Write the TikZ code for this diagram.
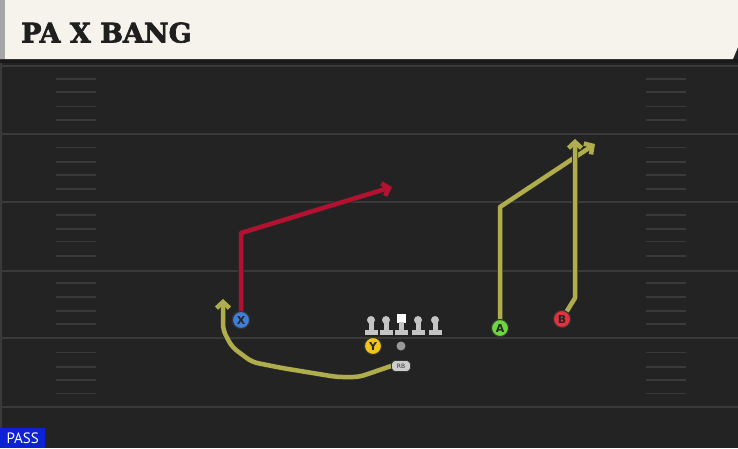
\documentclass[tikz,border=0pt]{standalone}
\usepackage{fontspec}
\usetikzlibrary{arrows.meta}
\newfontfamily\titlefont[FakeBold=2.5]{DejaVu Serif}
\newfontfamily\markfont{DejaVu Sans}
\newfontfamily\tagfont{PT Sans}
\definecolor{fieldgray}{HTML}{232323}
\definecolor{yardgray}{HTML}{3A3A3A}
\definecolor{titlecream}{HTML}{F6F3EC}
\definecolor{olive}{HTML}{B0AE4C}
\definecolor{routered}{HTML}{B3112F}
\definecolor{passblue}{HTML}{0D22D4}
\definecolor{linegray}{HTML}{C4C4C4}
\definecolor{xblue}{HTML}{3D7FD9}
\definecolor{yyellow}{HTML}{F2C418}
\definecolor{agreen}{HTML}{6CD63C}
\definecolor{bred}{HTML}{E0333F}
\tikzset{
	lineman/.pic={
		\fill[linegray] (0,-8) circle (4);
		\fill[linegray] (-2.5,-8) rectangle (2.5,4);
		\fill[linegray] (-6.5,2) rectangle (6.5,7);
	},
	centerman/.pic={
		\fill[white] (-4.5,-14) rectangle (4.5,-5);
		\fill[linegray] (-2.5,-6) rectangle (2.5,4);
		\fill[linegray] (-6.5,2) rectangle (6.5,7);
	}
}

\begin{document}
\begin{tikzpicture}[x=1pt,y=-1pt,
	yard/.style={draw=yardgray,line width=2pt},
	hash/.style={draw=yardgray,line width=1.5pt},
	route/.style={line width=4.5pt,line join=round,preaction={draw=black!85,line width=6pt},-{Straight Barb[length=6pt,width=13pt]}},
	player/.style={circle,draw=black!80,line width=1pt,minimum size=17pt,inner sep=0pt,text=black!85,font=\markfont\bfseries\fontsize{11}{11}\selectfont},
	rbtag/.style={fill=linegray!85,draw=black!80,line width=0.6pt,rounded corners=4pt,minimum width=19pt,minimum height=11pt,inner sep=0pt,text=black!80,font=\markfont\fontsize{6}{6}\selectfont}]
		\useasboundingbox (0,0) rectangle (738,448);
		\fill[fieldgray] (0,0) rectangle (738,448);
		\fill[yardgray] (0,59) rectangle (2,448);
		
		\draw[yard] (0,66) -- (738,66);
		\draw[yard] (0,133.5) -- (738,133.5);
		\draw[yard] (0,201.5) -- (738,201.5);
		\draw[yard] (0,270.5) -- (738,270.5);
		\draw[yard] (0,338) -- (738,338);
		\draw[yard] (0,407) -- (738,407);
		
		\draw[hash] (56,79) -- (96,79) (56,92) -- (96,92) (56,106.5) -- (96,106.5) (56,120) -- (96,120);
		\draw[hash] (646,79) -- (686,79) (646,92) -- (686,92) (646,106.5) -- (686,106.5) (646,120) -- (686,120);
		\draw[hash] (56,147.5) -- (96,147.5) (56,162) -- (96,162) (56,175) -- (96,175) (56,189) -- (96,189);
		\draw[hash] (646,147.5) -- (686,147.5) (646,162) -- (686,162) (646,175) -- (686,175) (646,189) -- (686,189);
		\draw[hash] (56,215) -- (96,215) (56,229) -- (96,229) (56,241.5) -- (96,241.5) (56,256) -- (96,256);
		\draw[hash] (646,215) -- (686,215) (646,229) -- (686,229) (646,241.5) -- (686,241.5) (646,256) -- (686,256);
		\draw[hash] (56,283) -- (96,283) (56,297) -- (96,297) (56,311) -- (96,311) (56,324) -- (96,324);
		\draw[hash] (646,283) -- (686,283) (646,297) -- (686,297) (646,311) -- (686,311) (646,324) -- (686,324);
		\draw[hash] (56,352.5) -- (96,352.5) (56,367) -- (96,367) (56,380) -- (96,380) (56,393.5) -- (96,393.5);
		\draw[hash] (646,352.5) -- (686,352.5) (646,367) -- (686,367) (646,380) -- (686,380) (646,393.5) -- (686,393.5);
		
		\fill[black!90] (0,59) rectangle (738,63);
		\fill[titlecream] (0,0) -- (738,0) -- (738,47) -- (733,59) -- (0,59) -- cycle;
		\fill[black!35] (0,0) rectangle (5,59);
		\node[anchor=base west,inner sep=0pt,text=black!88,font=\titlefont\bfseries\fontsize{27}{27}\selectfont] at (21,42.5) (title) {PA X BANG};
		
		\node[player,fill=yyellow] at (373,346) (Y) {Y};
		\node[circle,fill=gray!80,inner sep=0pt,minimum size=9pt] at (401,346) (qb) {};
		
		\pic (lt) at (371,328) {lineman};
		\pic (lg) at (386,328) {lineman};
		\pic (c) at (401,328) {centerman};
		\pic (rg) at (418,328) {lineman};
		\pic (rt) at (435,328) {lineman};
		
		\coordinate (xc) at (241,233);
		\coordinate (xe) at (392,187);
		\coordinate (ac) at (500,207);
		\coordinate (ae) at (595,144);
		\coordinate (bc) at (575,298);
		\coordinate (be) at (575,139);
		\coordinate (r1) at (359,377);
		\coordinate (r2) at (337,377);
		\coordinate (r3) at (282,368);
		\coordinate (r4) at (252,362);
		\coordinate (r5) at (232,347);
		\coordinate (r6) at (223,330);
		\coordinate (re) at (223,299);
		
		\node[player,fill=xblue] at (241,320) (X) {X};
		\node[player,fill=agreen] at (500,328) (A) {A};
		\node[player,fill=bred] at (562,319) (B) {B};
		\node[rbtag] at (401,366) (RB) {RB};
		
		\draw[route,routered] (X) -- (xc) -- (xe);
		\draw[route,olive] (A) -- (ac) -- (ae);
		\draw[route,olive] (B) -- (bc) -- (be);
		\draw[route,olive,rounded corners=6pt] (RB.west) -- (r1) -- (r2) -- (r3) -- (r4) -- (r5) -- (r6) -- (re);
		
		\node[player,fill=xblue] at (X) {X};
		\node[player,fill=agreen] at (A) {A};
		\node[player,fill=bred] at (B) {B};
		\node[rbtag] at (RB) {RB};
		
		\node[anchor=south west,fill=passblue,text=white,minimum width=45pt,minimum height=20pt,inner sep=0pt,font=\tagfont\fontsize{15}{15}\selectfont] at (0,448) (pass) {PASS};
	\end{tikzpicture}
\end{document}
